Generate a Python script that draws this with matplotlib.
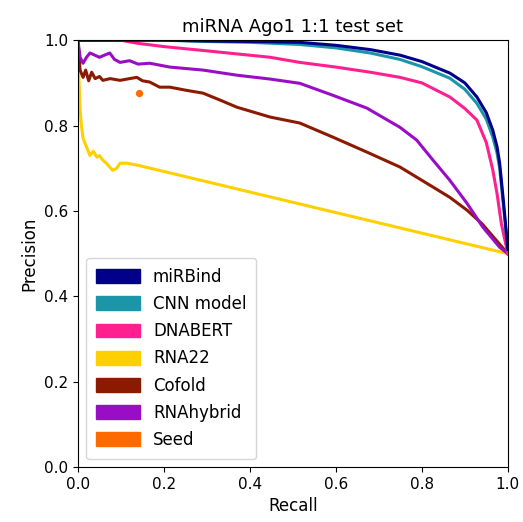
import matplotlib
matplotlib.use("Agg")
import matplotlib.pyplot as plt
from matplotlib.patches import Patch

# precision-recall curves
mirbind_r = [0.0, 0.1, 0.2, 0.3, 0.4, 0.516, 0.6, 0.68, 0.749, 0.8, 0.865, 0.9, 0.928, 0.95, 0.965, 0.975, 0.981, 0.99, 1.0]
mirbind_p = [1.0, 1.0, 1.0, 0.998, 0.997, 0.995, 0.988, 0.978, 0.965, 0.95, 0.923, 0.9, 0.867, 0.83, 0.789, 0.75, 0.712, 0.62, 0.51]

cnn_r = [0.0, 0.1, 0.2, 0.3, 0.4, 0.516, 0.6, 0.68, 0.749, 0.8, 0.865, 0.9, 0.928, 0.95, 0.965, 0.975, 0.981, 0.99, 1.0]
cnn_p = [1.0, 1.0, 1.0, 0.997, 0.995, 0.99, 0.982, 0.97, 0.955, 0.938, 0.911, 0.885, 0.852, 0.815, 0.773, 0.735, 0.70, 0.61, 0.51]

dnabert_r = [0.0, 0.1, 0.137, 0.2, 0.3, 0.447, 0.516, 0.6, 0.68, 0.749, 0.8, 0.865, 0.9, 0.928, 0.95, 0.965, 0.975, 0.985, 1.0]
dnabert_p = [1.0, 1.0, 0.993, 0.985, 0.975, 0.96, 0.948, 0.937, 0.925, 0.913, 0.9, 0.867, 0.84, 0.813, 0.76, 0.696, 0.64, 0.57, 0.5]

rna22_r = [0.0, 0.002, 0.005, 0.008, 0.012, 0.02, 0.028, 0.036, 0.044, 0.05, 0.058, 0.066, 0.074, 0.081, 0.09, 0.098, 0.114, 0.144, 1.0]
rna22_p = [1.0, 0.92, 0.84, 0.80, 0.77, 0.75, 0.73, 0.74, 0.726, 0.73, 0.719, 0.712, 0.703, 0.695, 0.70, 0.712, 0.712, 0.706, 0.5]

cofold_r = [0.0, 0.005, 0.012, 0.018, 0.025, 0.032, 0.04, 0.05, 0.058, 0.075, 0.098, 0.12, 0.137, 0.15, 0.167, 0.19, 0.214, 0.25, 0.291, 0.33, 0.37, 0.447, 0.516, 0.593, 0.672, 0.749, 0.826, 0.865, 0.905, 0.94, 0.97, 1.0]
cofold_p = [1.0, 0.93, 0.913, 0.93, 0.905, 0.925, 0.91, 0.915, 0.906, 0.91, 0.906, 0.91, 0.913, 0.905, 0.902, 0.89, 0.89, 0.883, 0.876, 0.86, 0.843, 0.82, 0.806, 0.773, 0.738, 0.703, 0.656, 0.632, 0.602, 0.57, 0.535, 0.5]

rnahybrid_r = [0.0, 0.005, 0.012, 0.02, 0.028, 0.05, 0.074, 0.085, 0.098, 0.12, 0.14, 0.167, 0.214, 0.291, 0.37, 0.447, 0.516, 0.593, 0.672, 0.749, 0.788, 0.826, 0.865, 0.905, 0.942, 0.981, 1.0]
rnahybrid_p = [1.0, 0.96, 0.946, 0.96, 0.97, 0.96, 0.97, 0.955, 0.948, 0.952, 0.944, 0.946, 0.937, 0.93, 0.918, 0.909, 0.899, 0.871, 0.841, 0.796, 0.766, 0.719, 0.672, 0.618, 0.562, 0.515, 0.5]

seed_r = [0.142]
seed_p = [0.876]

names = ["miRBind", "CNN model", "DNABERT", "RNA22", "Cofold", "RNAhybrid", "Seed"]
colors = ["#00008b", "#1a96a8", "#ff1f8e", "#ffd000", "#8b1a00", "#9a0dc6", "#ff6a00"]

fig = plt.figure(figsize=(5.23, 5.22), dpi=100)
ax = fig.add_axes([0.149, 0.105, 0.822, 0.818])

lw = 2.2
ax.plot(rna22_r, rna22_p, color=colors[3], lw=lw)
ax.plot(cofold_r, cofold_p, color=colors[4], lw=lw)
ax.plot(rnahybrid_r, rnahybrid_p, color=colors[5], lw=lw)
ax.plot(dnabert_r, dnabert_p, color=colors[2], lw=lw)
ax.plot(cnn_r, cnn_p, color=colors[1], lw=lw)
ax.plot(mirbind_r, mirbind_p, color=colors[0], lw=lw)
ax.scatter(seed_r, seed_p, color=colors[6], s=18, zorder=5)

ax.set_xlim(0, 1)
ax.set_ylim(0, 1)
ax.set_xticks([0.0, 0.2, 0.4, 0.6, 0.8, 1.0])
ax.set_yticks([0.0, 0.2, 0.4, 0.6, 0.8, 1.0])
ax.tick_params(labelsize=11)
ax.set_xlabel("Recall", fontsize=12)
ax.set_ylabel("Precision", fontsize=12)
ax.set_title("miRNA Ago1 1:1 test set", fontsize=13)

handles = [Patch(facecolor=c, edgecolor=c) for c in colors]
ax.legend(handles, names, loc="lower left", fontsize=12, handlelength=2.6,
          handleheight=0.9, labelspacing=0.55, borderpad=0.6)

fig.savefig("out.png", dpi=100)
